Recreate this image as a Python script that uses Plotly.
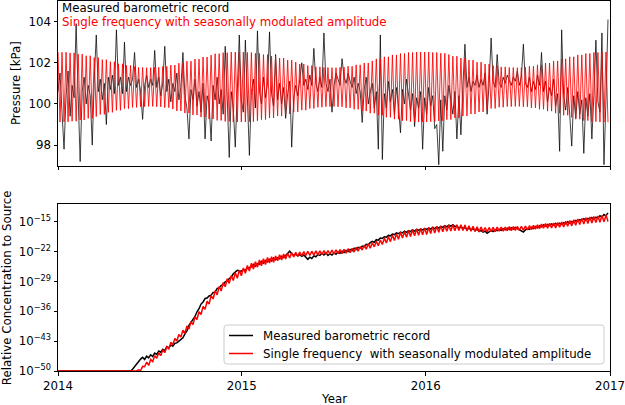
import numpy as np
import pandas as pd
import plotly.graph_objects as go

# ---------------- data ----------------
start_date = "2014-01-01"
step_days = 4
year_ticks = ["2014-01-01", "2015-01-01", "2016-01-01", "2017-01-01"]
year_labels = ["2014", "2015", "2016", "2017"]

# measured barometric record [kPa], one value every 4 days
black_pressure_kpa = [
    100.6, 101.5, 99.6, 97.8, 100.4, 101.6, 99.4, 100.9, 100.3, 103.9,
    100.4, 97.2, 100.6, 101.3, 100.0, 100.9, 100.4, 98.0, 101.2, 103.35,
    100.6, 101.2, 100.2, 101.0, 99.0, 101.3, 100.7, 101.4, 100.5, 103.6,
    100.9, 101.3, 100.5, 103.0, 100.6, 101.3, 100.9, 101.2, 102.5, 100.8,
    101.2, 100.6, 99.25, 100.9, 101.4, 100.8, 101.2, 100.9, 102.6, 100.8,
    101.3, 100.4, 101.0, 102.8, 100.6, 101.2, 100.1, 101.0, 100.6, 101.5,
    100.2, 100.8, 102.5, 100.4, 99.8, 98.3, 100.7, 100.2, 101.2, 99.9,
    100.6, 99.6, 101.0, 98.3, 100.4, 100.0, 98.2, 100.9, 100.2, 101.3,
    100.0, 100.7, 99.5, 102.8, 100.3, 97.4, 100.6, 99.8, 97.9, 101.1,
    103.35, 100.2, 99.6, 103.1, 100.4, 97.5, 100.6, 101.2, 99.8, 103.55,
    100.6, 100.0, 101.3, 100.3, 101.0, 103.5, 100.5, 99.9, 102.4, 100.2,
    101.0, 100.0, 100.8, 99.3, 100.5, 101.1, 97.9, 100.3, 100.9, 100.4,
    101.2, 102.0, 100.9, 101.2, 100.7, 101.4, 100.9, 102.7, 101.0, 100.6,
    101.3, 100.8, 103.45, 101.0, 100.6, 101.2, 99.6, 100.9, 101.5, 101.2,
    100.9, 102.2, 101.3, 101.0, 101.5, 101.1, 100.8, 101.3, 100.5, 101.0,
    100.6, 99.1, 100.7, 101.3, 100.0, 100.6, 101.0, 99.8, 100.6, 97.8,
    103.35, 97.3, 100.5, 99.8, 101.1, 100.1, 100.7, 99.5, 100.8, 99.9,
    98.6, 100.7, 100.0, 101.2, 100.3, 99.7, 100.5, 98.9, 100.3, 99.8,
    100.6, 97.8, 100.3, 99.5, 100.8, 99.9, 100.4, 98.8, 99.0, 97.05,
    100.2, 97.7, 100.4, 99.7, 100.9, 100.1, 99.5, 100.6, 98.3, 100.4,
    98.5, 100.9, 102.9, 100.8, 101.3, 100.6, 101.1, 100.9, 101.4, 100.8,
    101.2, 100.9, 101.5, 99.5, 101.0, 103.2, 101.1, 100.8, 102.4, 101.0,
    100.8, 101.3, 101.0, 101.4, 101.1, 100.9, 101.3, 101.1, 101.6, 100.9,
    101.3, 102.9, 101.0, 100.8, 101.3, 100.6, 101.1, 100.7, 101.4, 100.9,
    102.5, 100.6, 101.1, 100.1, 100.8, 100.4, 101.2, 99.9, 100.5, 97.7,
    103.6, 100.4, 99.7, 100.8, 99.5, 97.95, 100.4, 99.3, 100.6, 99.5,
    100.2, 97.6, 100.3, 99.4, 100.5, 98.3, 100.4, 103.1, 100.1, 99.6,
    103.45, 97.05, 100.2, 104.1,
]

# single-frequency model: mean level and half-monthly amplitude envelope [kPa]
red_center_kpa = 100.82
red_amp_kpa_semimonthly = [
    1.70, 1.69, 1.66, 1.60, 1.52, 1.43, 1.33, 1.23, 1.13, 1.05, 0.99, 0.95, 0.94,
    0.96, 1.00, 1.07, 1.16, 1.26, 1.36, 1.46, 1.55, 1.62, 1.67, 1.70, 1.70,
    1.68, 1.64, 1.58, 1.50, 1.41, 1.31, 1.21, 1.12, 1.04, 0.98, 0.95, 0.94,
    0.96, 1.01, 1.08, 1.17, 1.27, 1.37, 1.47, 1.56, 1.63, 1.68, 1.70, 1.70,
    1.68, 1.64, 1.58, 1.50, 1.41, 1.31, 1.21, 1.12, 1.04, 0.98, 0.95, 0.94,
    0.96, 1.01, 1.08, 1.17, 1.27, 1.37, 1.47, 1.56, 1.63, 1.68, 1.70, 1.71,
]

# relative concentration (log10), measured record, every 4 days
black_conc_log10 = [-50.0] * 37 + [
    -49.6, -49.0, -48.4, -47.6, -47.2, -46.8, -47.3, -46.5, -46.9, -46.2,
    -46.6, -45.8, -46.1, -45.3, -45.6, -44.9, -45.2, -44.3, -44.6, -43.9,
    -44.2, -43.5, -43.4, -43.0, -42.6, -42.2, -41.3, -40.6, -39.3, -38.6,
    -37.7, -37.2, -36.1, -35.4, -34.3, -33.8, -33.0, -32.9, -32.4, -32.2,
    -31.6, -31.5, -30.6, -30.5, -29.9, -29.8, -29.1, -28.9, -28.3, -28.0,
    -27.2, -26.7, -26.4, -26.5, -26.6, -26.2, -26.4, -25.9, -25.7, -25.6,
    -25.0, -25.4, -24.8, -25.0, -24.3, -24.7, -24.1, -24.4, -23.8, -24.2,
    -23.5, -23.9, -23.4, -23.7, -23.1, -23.4, -22.9, -22.3, -21.9, -22.5,
    -22.9, -22.6, -23.0, -22.7, -23.1, -22.8, -23.3, -23.8, -23.3, -23.6,
    -23.0, -23.2, -22.7, -22.9, -22.4, -22.8, -22.3, -22.9, -22.5, -22.8,
    -22.3, -22.6, -22.1, -22.4, -21.9, -22.2, -21.7, -22.0, -21.5, -21.8,
    -21.2, -21.5, -21.0, -21.2, -20.7, -20.9, -20.3, -20.4, -19.9, -19.6,
    -19.8, -19.2, -19.3, -18.8, -18.9, -18.5, -18.6, -18.2, -18.3, -17.9,
    -18.0, -17.6, -17.8, -17.4, -17.6, -17.2, -17.5, -17.1, -17.3, -16.9,
    -17.2, -16.8, -17.0, -16.7, -16.9, -16.6, -16.8, -16.5, -16.7, -16.3,
    -16.6, -16.2, -16.5, -16.1, -16.3, -15.9, -16.2, -15.8, -16.0, -15.7,
    -16.1, -16.0, -16.5, -16.2, -16.6, -16.3, -16.8, -16.5, -16.9, -16.6,
    -17.0, -16.7, -17.3, -17.0, -17.4, -17.2, -17.7, -17.4, -17.0, -17.3,
    -16.9, -17.1, -16.8, -17.0, -16.6, -16.9, -16.5, -16.8, -16.4, -16.7,
    -16.3, -16.6, -16.9, -17.2, -17.4, -16.9, -16.6, -16.8, -16.3, -16.6,
    -16.1, -16.4, -15.9, -16.2, -15.7, -16.0, -15.6, -15.9, -15.5, -15.8,
    -15.4, -15.7, -15.3, -15.6, -15.2, -15.5, -15.0, -15.3, -14.9, -15.2,
    -14.7, -14.9, -14.5, -14.7, -14.3, -14.6, -14.2, -14.5, -14.0, -14.4,
    -13.9, -14.2, -13.6, -13.9, -13.3, -13.6, -12.9,
]

# relative concentration (log10), model: mid-line every 4 days + half-monthly swing
red_conc_center_log10 = [-50.0] * 41 + [
    -49.6, -49.2, -48.7, -48.4, -48.2, -47.8, -47.3, -46.9, -46.5, -46.2,
    -45.9, -45.5, -45.2, -44.8, -44.3, -43.8, -43.3, -42.9, -42.4, -42.0,
    -41.5, -41.0, -40.6, -40.0, -39.6, -39.0, -38.5, -37.9, -37.3, -36.7,
    -36.1, -35.5, -34.9, -34.3, -33.6, -33.0, -32.4, -31.9, -31.4, -30.9,
    -30.5, -30.0, -29.5, -29.1, -28.7, -28.4, -28.0, -27.7, -27.5, -27.1,
    -26.9, -26.6, -26.3, -26.0, -25.8, -25.5, -25.3, -25.1, -24.9, -24.7,
    -24.6, -24.4, -24.3, -24.1, -24.0, -23.9, -23.8, -23.7, -23.5, -23.4,
    -23.3, -23.2, -23.1, -23.0, -22.9, -22.8, -22.7, -22.7, -22.6, -22.6,
    -22.5, -22.5, -22.4, -22.4, -22.4, -22.4, -22.35, -22.3, -22.3, -22.3,
    -22.25, -22.2, -22.2, -22.2, -22.1, -22.1, -22.1, -22.05, -22.0, -22.0,
    -22.0, -21.9, -21.9, -21.8, -21.75, -21.7, -21.6, -21.5, -21.4, -21.3,
    -21.1, -21.0, -20.9, -20.7, -20.6, -20.5, -20.3, -20.2, -20.0, -19.9,
    -19.7, -19.5, -19.3, -19.1, -19.0, -18.8, -18.7, -18.5, -18.4, -18.2,
    -18.1, -18.0, -17.9, -17.8, -17.7, -17.6, -17.5, -17.45, -17.4, -17.35,
    -17.3, -17.2, -17.2, -17.1, -17.0, -16.9, -16.85, -16.8, -16.7, -16.7,
    -16.6, -16.6, -16.5, -16.5, -16.45, -16.4, -16.4, -16.35, -16.35, -16.35,
    -16.4, -16.4, -16.5, -16.55, -16.6, -16.65, -16.7, -16.75, -16.75, -16.8,
    -16.8, -16.85, -16.85, -16.85, -16.8, -16.8, -16.8, -16.75, -16.75, -16.7,
    -16.7, -16.7, -16.65, -16.6, -16.6, -16.6, -16.6, -16.55, -16.55, -16.55,
    -16.5, -16.5, -16.45, -16.4, -16.35, -16.3, -16.25, -16.2, -16.1, -16.05,
    -16.0, -15.95, -15.95, -15.9, -15.9, -15.85, -15.85, -15.75, -15.7, -15.65,
    -15.6, -15.5, -15.4, -15.35, -15.3, -15.2, -15.1, -15.05, -14.95, -14.9,
    -14.8, -14.75, -14.7, -14.6, -14.55, -14.5, -14.45, -14.4, -14.35, -14.3,
    -14.25, -14.2, -14.15,
]
red_conc_swing_semimonthly = (
    [0.0] * 11 + [0.3]
    + [0.5, 0.5, 0.5, 0.52, 0.55, 0.58, 0.62, 0.66, 0.7, 0.73, 0.75, 0.77, 0.77]
    + [0.76, 0.74, 0.71, 0.68, 0.64, 0.6, 0.55, 0.52, 0.5, 0.48, 0.46, 0.45]
    + [0.46, 0.48, 0.5, 0.54, 0.58, 0.62, 0.66, 0.7, 0.73, 0.75, 0.77, 0.77]
    + [0.76, 0.74, 0.71, 0.68, 0.64, 0.6, 0.55, 0.52, 0.5, 0.48, 0.46, 0.45]
    + [0.46, 0.48, 0.5, 0.54, 0.58, 0.62, 0.66, 0.7, 0.73, 0.75, 0.77, 0.77]
)

ytick_top = [98, 100, 102, 104]
ytick_bottom_exp = [-50, -43, -36, -29, -22, -15]
legend_names = ["Measured barometric record",
                "Single frequency\u00a0 with seasonally modulated amplitude"]
legend_colors = ["black", "red"]

# ---------------- build series ----------------
n = min(len(black_pressure_kpa), len(black_conc_log10), len(red_conc_center_log10))
dates = pd.date_range(start_date, periods=n, freq=f"{step_days}D")
idx = np.arange(n)
half_month = np.clip(np.rint(idx * step_days / 365.25 * 24).astype(int), 0, 72)
sign = np.where(idx % 2 == 0, 1.0, -1.0)

red_top = red_center_kpa + sign * np.array(red_amp_kpa_semimonthly)[half_month]
red_bottom_log = np.array(red_conc_center_log10[:n]) + sign * np.array(red_conc_swing_semimonthly)[half_month]
black_bottom = 10.0 ** np.array(black_conc_log10[:n])
red_bottom = 10.0 ** red_bottom_log

FONT = "DejaVu Sans"
FS = 11.8
W, H = 625, 405
ML, MR, MT, MB = 58, 15, 1, 34
PW, PH = W - ML - MR, H - MT - MB


def px(xpix):
    return (xpix - ML) / PW


def py(ypix):
    return (H - MB - ypix) / PH


fig = go.Figure()
fig.add_trace(go.Scatter(x=dates, y=black_pressure_kpa[:n], mode="lines",
                         line=dict(color="black", width=0.75), xaxis="x", yaxis="y",
                         showlegend=False, hoverinfo="skip"))
fig.add_trace(go.Scatter(x=dates, y=red_top, mode="lines",
                         line=dict(color="red", width=0.85), xaxis="x", yaxis="y",
                         showlegend=False, hoverinfo="skip"))
fig.add_trace(go.Scatter(x=dates, y=black_bottom, mode="lines", name=legend_names[0],
                         line=dict(color="black", width=1.5), xaxis="x2", yaxis="y2",
                         showlegend=False, hoverinfo="skip"))
fig.add_trace(go.Scatter(x=dates, y=red_bottom, mode="lines", name=legend_names[1],
                         line=dict(color="red", width=1.5), xaxis="x2", yaxis="y2",
                         showlegend=False, hoverinfo="skip"))

axis_common = dict(showline=True, linecolor="black", linewidth=1, mirror=True,
                   ticks="outside", ticklen=3.5, tickwidth=0.8, tickcolor="black",
                   showgrid=False, zeroline=False, ticklabeloverflow="allow",
                   tickfont=dict(family=FONT, size=FS, color="black"))

xrange = ["2014-01-01", "2017-01-01"]
fig.update_layout(
    width=W, height=H,
    margin=dict(l=ML, r=MR, t=MT, b=MB),
    paper_bgcolor="white", plot_bgcolor="white",
    font=dict(family=FONT, size=FS, color="black"),
    showlegend=False,
    xaxis=dict(domain=[0, 1], anchor="y", type="date", range=xrange,
               tickvals=year_ticks, showticklabels=False, **axis_common),
    yaxis=dict(domain=[py(165.7), 1], anchor="x", range=[97, 105],
               tickvals=ytick_top, ticktext=[str(v) for v in ytick_top], **axis_common),
    xaxis2=dict(domain=[0, 1], anchor="y2", type="date", range=xrange,
                tickvals=year_ticks, ticktext=year_labels, **axis_common),
    yaxis2=dict(domain=[0, py(204.3)], anchor="x2", type="log", range=[-50, -10.9],
                tickvals=[10.0 ** e for e in ytick_bottom_exp],
                ticktext=[f"10<sup>\u2212{abs(e)}</sup>" for e in ytick_bottom_exp],
                **axis_common),
)

# legend drawn by hand (matplotlib-like box with rounded corners)
bx0, bx1, by0, by1, r = 224, 604, 325, 364, 3
rx, ry = r / PW, r / PH
X0, X1, Y0, Y1 = px(bx0), px(bx1), py(by1), py(by0)
box_path = (f"M {X0+rx},{Y0} L {X1-rx},{Y0} Q {X1},{Y0} {X1},{Y0+ry} "
            f"L {X1},{Y1-ry} Q {X1},{Y1} {X1-rx},{Y1} L {X0+rx},{Y1} "
            f"Q {X0},{Y1} {X0},{Y1-ry} L {X0},{Y0+ry} Q {X0},{Y0} {X0+rx},{Y0} Z")
shapes = [dict(type="path", path=box_path, xref="paper", yref="paper",
               fillcolor="rgba(255,255,255,0.8)", line=dict(color="#cccccc", width=1),
               layer="above")]
annotations = []
for k, (name, col) in enumerate(zip(legend_names, legend_colors)):
    yrow = 335.5 + 18 * k
    shapes.append(dict(type="line", xref="paper", yref="paper",
                       x0=px(229), x1=px(253), y0=py(yrow), y1=py(yrow),
                       line=dict(color=col, width=1.5), layer="above"))
    annotations.append(dict(text=name, x=px(262), y=py(yrow), xref="paper", yref="paper",
                            xanchor="left", yanchor="middle", showarrow=False, borderpad=0,
                            font=dict(family=FONT, size=FS, color="black")))

annotations += [
    dict(text="Measured barometric record", x=px(60.5), y=py(8.0), xref="paper",
         yref="paper", xanchor="left", yanchor="middle", showarrow=False, borderpad=0,
         font=dict(family=FONT, size=FS, color="black")),
    dict(text="Single frequency with seasonally modulated amplitude", x=px(60.5),
         y=py(21.8), xref="paper", yref="paper", xanchor="left", yanchor="middle",
         showarrow=False, borderpad=0, font=dict(family=FONT, size=FS, color="red")),
    dict(text="Pressure [kPa]", x=px(16.7), y=(py(165.7) + 1) / 2, xref="paper",
         yref="paper", xanchor="center", yanchor="middle", textangle=-90,
         showarrow=False, font=dict(family=FONT, size=FS, color="black")),
    dict(text="Relative Concentration to Source", x=px(6.5), y=py(204.3) / 2,
         xref="paper", yref="paper", xanchor="center", yanchor="middle", textangle=-90,
         showarrow=False, font=dict(family=FONT, size=FS, color="black")),
    dict(text="Year", x=0.5, y=py(398.5), xref="paper", yref="paper",
         xanchor="center", yanchor="middle", showarrow=False,
         font=dict(family=FONT, size=FS, color="black")),
]
fig.update_layout(shapes=shapes, annotations=annotations)

fig.write_html("out.html", config={"displayModeBar": False},
               post_script="document.body.style.margin='0px';document.body.style.overflow='hidden';")
